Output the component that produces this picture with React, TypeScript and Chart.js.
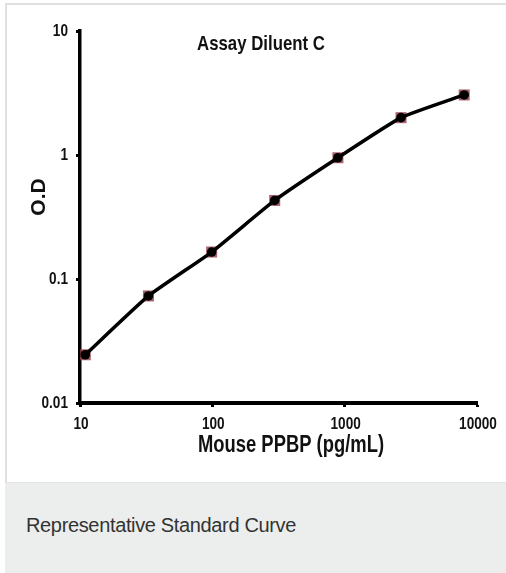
import React, { useEffect, useRef } from "react";
import { Chart, registerables } from "chart.js";

Chart.register(...registerables);

const concentrations = [10.97, 32.9, 98.8, 296, 889, 2667, 8000];
const odValues = [0.0245, 0.073, 0.165, 0.43, 0.95, 2.0, 3.05];
const yTicks = [0.01, 0.1, 1, 10];
const xTicks = [10, 100, 1000, 10000];
const chartTitle = "Assay Diluent C";
const xTitle = "Mouse PPBP (pg/mL)";
const yTitle = "O.D";
const caption = "Representative Standard Curve";

const SANS = "'Liberation Sans', Arial, sans-serif";
const NARROW_SCALE = 0.8;

function narrowText(ctx: any, text: string, x: number, y: number, font: string, align: string) {
  ctx.save();
  ctx.font = font;
  ctx.textAlign = align;
  ctx.textBaseline = "middle";
  ctx.translate(x, y);
  ctx.scale(NARROW_SCALE, 1);
  ctx.fillText(text, 0, 0);
  ctx.restore();
}

const textPlugin = {
  id: "texts",
  afterDraw(chart: any) {
    const { ctx, chartArea, scales } = chart;
    ctx.save();
    ctx.fillStyle = "#111";
    const tickFont = `bold 17px ${SANS}`;
    yTicks.forEach((v) => {
      narrowText(ctx, String(v), chartArea.left - 12, scales.y.getPixelForValue(v), tickFont, "right");
    });
    xTicks.forEach((v) => {
      narrowText(ctx, String(v), scales.x.getPixelForValue(v) + 1, chartArea.bottom + 21, tickFont, "center");
    });
    narrowText(ctx, chartTitle, chartArea.left + 181, chartArea.top + 13, `bold 21px ${SANS}`, "center");
    narrowText(ctx, xTitle, chartArea.left + 211, chartArea.bottom + 43, `bold 23px ${SANS}`, "center");
    ctx.translate(39, chartArea.top + 166);
    ctx.rotate(-Math.PI / 2);
    ctx.font = `bold 21px ${SANS}`;
    ctx.textAlign = "center";
    ctx.textBaseline = "middle";
    ctx.fillText(yTitle, 0, 0);
    ctx.restore();
  },
};

export default function App() {
  const ref = useRef<HTMLCanvasElement>(null);
  useEffect(() => {
    if (!ref.current) return;
    const points = concentrations.map((x, i) => ({ x, y: odValues[i] }));
    const chart = new Chart(ref.current, {
      type: "line",
      data: {
        datasets: [
          {
            data: points,
            borderColor: "#000",
            borderWidth: 3.5,
            tension: 0.15,
            pointRadius: 4.8,
            pointStyle: "circle",
            pointBackgroundColor: "#000",
            pointBorderColor: "#000",
            pointBorderWidth: 0,
            order: 0,
          },
          {
            data: points,
            showLine: false,
            pointStyle: "rect",
            pointRadius: 7.8,
            pointBackgroundColor: "rgba(150,60,75,0.8)",
            pointBorderColor: "rgba(150,60,75,0.8)",
            pointBorderWidth: 0,
            order: 1,
          },
        ],
      },
      options: {
        responsive: false,
        animation: false,
        layout: { padding: { top: 31, right: 29, left: 0, bottom: 0 } },
        plugins: { legend: { display: false }, tooltip: { enabled: false } },
        scales: {
          x: {
            type: "logarithmic",
            min: 10,
            max: 10000,
            afterFit: (s: any) => {
              s.height = 78;
            },
            afterBuildTicks: (s: any) => {
              s.ticks = xTicks.map((v) => ({ value: v }));
            },
            ticks: { display: false, autoSkip: false },
            grid: {
              drawOnChartArea: false,
              drawTicks: true,
              tickLength: 4,
              tickWidth: 3,
              tickColor: "#000",
            },
            border: { color: "#000", width: 4 },
          },
          y: {
            type: "logarithmic",
            min: 0.01,
            max: 10,
            afterFit: (s: any) => {
              s.width = 80;
            },
            afterBuildTicks: (s: any) => {
              s.ticks = yTicks.map((v) => ({ value: v }));
            },
            ticks: { display: false, autoSkip: false },
            grid: {
              drawOnChartArea: false,
              drawTicks: true,
              tickLength: 4,
              tickWidth: 3,
              tickColor: "#000",
            },
            border: { color: "#000", width: 3.5 },
          },
        },
      },
      plugins: [textPlugin],
    });
    return () => chart.destroy();
  }, []);

  return (
    <div
      style={{
        position: "absolute",
        left: 0,
        top: 0,
        width: 506,
        height: 573,
        background: "#fff",
        overflow: "hidden",
      }}
    >
      <div
        style={{
          position: "absolute",
          left: 5,
          top: 3,
          width: 520,
          height: 570,
          border: "2px solid #e0e0e0",
          boxSizing: "border-box",
          background: "#fff",
        }}
      />
      <canvas
        ref={ref}
        width={506}
        height={481}
        style={{ position: "absolute", left: 0, top: 0, width: 506, height: 481 }}
      />
      <div
        style={{
          position: "absolute",
          left: 5,
          top: 482,
          width: 510,
          height: 91,
          background: "#eceeed",
          borderTop: "1px solid #e2e4e3",
          boxSizing: "border-box",
        }}
      >
        <div
          style={{
            position: "absolute",
            left: 21,
            top: 31,
            fontFamily: SANS,
            fontSize: 20,
            color: "#333",
            letterSpacing: -0.35,
            whiteSpace: "nowrap",
          }}
        >
          {caption}
        </div>
      </div>
    </div>
  );
}
